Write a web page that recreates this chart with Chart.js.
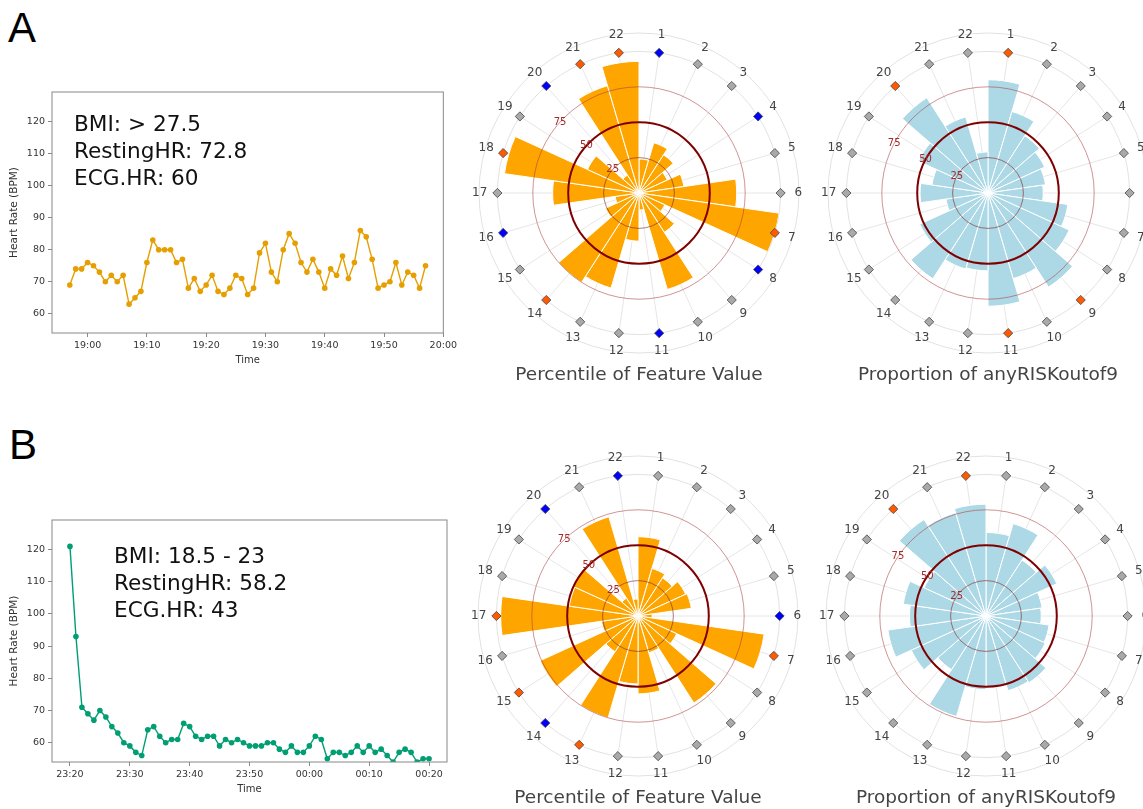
<!DOCTYPE html>
<html>
<head>
<meta charset="utf-8">
<script src="https://cdn.jsdelivr.net/npm/chart.js@4.4.1/dist/chart.umd.min.js"></script>
<style>
  html, body { margin: 0; padding: 0; background: #fff; }
  body { width: 1143px; height: 809px; position: relative; overflow: hidden; }
  canvas, .txt { position: absolute; }
  .panel { font-family: 'Liberation Sans', Arial, sans-serif; font-size: 42px; line-height: 42px; color: #000; }
  .note { font-family: 'DejaVu Sans', sans-serif; font-size: 21.6px; line-height: 27px; color: #111; white-space: pre; }
  .cap { font-family: 'DejaVu Sans', sans-serif; font-size: 18.5px; line-height: 22px; color: #444; text-align: center; width: 360px; }
</style>
</head>
<body>
<div class="txt panel" style="left:8px; top:7px">A</div>
<div class="txt panel" style="left:9px; top:424px">B</div>

<canvas id="lineA" width="460" height="290" style="left:0; top:80px"></canvas>
<canvas id="lineB" width="460" height="291" style="left:0; top:508px"></canvas>
<canvas id="polA1" width="360" height="360" style="left:459px; top:13px"></canvas>
<canvas id="polA2" width="360" height="360" style="left:808px; top:13px"></canvas>
<canvas id="polB1" width="360" height="360" style="left:458px; top:436px"></canvas>
<canvas id="polB2" width="360" height="360" style="left:806px; top:436px"></canvas>

<div class="txt note" style="left:74px; top:110px">BMI: &gt; 27.5
RestingHR: 72.8
ECG.HR: 60</div>
<div class="txt note" style="left:114px; top:542px">BMI: 18.5 - 23
RestingHR: 58.2
ECG.HR: 43</div>

<div class="txt cap" style="left:459px; top:363px">Percentile of Feature Value</div>
<div class="txt cap" style="left:808px; top:363px">Proportion of anyRISKoutof9</div>
<div class="txt cap" style="left:458px; top:786px">Percentile of Feature Value</div>
<div class="txt cap" style="left:806px; top:786px">Proportion of anyRISKoutof9</div>

<script>
// heart rate, one reading per minute
const startA = 18 * 60 + 57;   // 18:57
const hrA = [69, 74, 74, 76, 75, 73, 70, 72, 70, 72, 63, 65, 67, 76, 83, 80, 80, 80, 76, 77,
             68, 71, 67, 69, 72, 67, 66, 68, 72, 71, 66, 68, 79, 82, 73, 70, 80, 85, 82, 76,
             73, 77, 73, 68, 74, 72, 78, 71, 76, 86, 84, 77, 68, 69, 70, 76, 69, 73, 72, 68, 75];
const startB = 23 * 60 + 20;   // 23:20
const hrB = [121, 93, 71, 69, 67, 70, 68, 65, 63, 60, 59, 57, 56, 64, 65, 62, 60, 61, 61, 66,
             65, 62, 61, 62, 62, 59, 61, 60, 61, 60, 59, 59, 59, 60, 60, 58, 57, 59, 57, 57,
             59, 62, 61, 55, 57, 57, 56, 57, 59, 57, 59, 57, 58, 56, 54, 57, 58, 57, 54, 55, 55];

// radial plots: 22 features
const sectorLabels = ['1', '2', '3', '4', '5', '6', '7', '8', '9', '10', '11',
                      '12', '13', '14', '15', '16', '17', '18', '19', '20', '21', '22'];
const pctA  = [24, 37, 32, 22, 32, 69, 100, 20, 33, 71, 12, 34, 70, 75, 26, 17, 61, 96, 40, 15, 79, 93];
const propA = [80, 60, 48, 44, 41, 39, 57, 63, 79, 63, 80, 55, 56, 72, 53, 30, 48, 40, 54, 80, 56, 29];
const pctB  = [56, 35, 32, 37, 38, 10, 90, 30, 73, 27, 55, 48, 75, 30, 76, 26, 97, 49, 51, 15, 73, 12];
const propB = [59, 68, 47, 55, 40, 39, 45, 46, 56, 55, 50, 52, 74, 45, 58, 70, 54, 59, 48, 81, 76, 79];

// marker status per feature: g = neutral, o = high, b = low
const marksPctA  = ['b','g','g','b','g','g','o','b','g','g','b','g','g','o','g','b','g','o','g','b','o','o'];
const marksPropA = ['o','g','g','g','g','g','g','g','o','g','o','g','g','g','g','g','g','g','g','o','g','g'];
const marksPctB  = ['g','g','g','g','g','b','o','g','g','g','g','g','o','b','o','g','o','g','g','b','g','b'];
const marksPropB = ['g','g','g','g','g','g','g','g','g','g','g','g','g','g','g','g','g','g','g','o','g','o'];

const ringValues = [0, 25, 50, 75, 100, 113];
const radialTickLabels = [25, 50, 75];

const markColor = { g: '#a9a9a9', o: '#ff5a00', b: '#0000ff' };
const ringStyle = {
    25:  { color: 'rgba(120, 40, 40, 0.6)', width: 1 },
    50:  { color: '#7f0000', width: 2 },
    75:  { color: 'rgba(170, 60, 60, 0.55)', width: 1 },
    100: { color: '#e2e2e2', width: 1 },
    113: { color: '#e2e2e2', width: 1 }
};

const mpl = { family: 'DejaVu Sans' };
const tickColor = '#333';
const spineColor = '#888';

function hhmm(v) {
    const m = ((Math.round(v) % 1440) + 1440) % 1440;
    return String(Math.floor(m / 60)).padStart(2, '0') + ':' + String(m % 60).padStart(2, '0');
}

// box round the plot area, like matplotlib spines
const frameBox = {
    id: 'frameBox',
    afterDraw(chart) {
        const { ctx, chartArea: a } = chart;
        ctx.save();
        ctx.strokeStyle = spineColor;
        ctx.lineWidth = 1;
        ctx.strokeRect(a.left, a.top, a.width, a.height);
        ctx.restore();
    }
};

function lineChart(id, start, values, color) {
    const pts = values.map((v, i) => ({ x: start + i, y: v }));
    return new Chart(document.getElementById(id), {
        type: 'line',
        data: {
            datasets: [{
                data: pts,
                borderColor: color,
                backgroundColor: color,
                borderWidth: 1.4,
                pointRadius: 2.8,
                pointBorderWidth: 0,
                pointHoverRadius: 2.8,
                tension: 0
            }]
        },
        options: {
            responsive: false,
            animation: false,
            layout: { padding: { left: 4, right: 13, top: 12, bottom: 0 } },
            plugins: { legend: { display: false }, tooltip: { enabled: false } },
            scales: {
                x: {
                    type: 'linear',
                    min: start - 3,
                    max: start + values.length + 2,
                    afterFit: s => { s.height = 37; },
                    ticks: {
                        stepSize: 10, includeBounds: false, autoSkip: false, maxRotation: 0,
                        padding: 3, color: tickColor, font: { ...mpl, size: 9.5 },
                        callback: v => hhmm(v)
                    },
                    grid: { display: true, drawOnChartArea: false, tickLength: 4, color: spineColor },
                    border: { display: false },
                    title: { display: true, text: 'Time', color: tickColor, font: { ...mpl, size: 10 }, padding: { top: 4, bottom: 4 } }
                },
                y: {
                    min: 54,
                    max: 129.2,
                    afterFit: s => { s.width = 48; },
                    ticks: { stepSize: 10, includeBounds: false, padding: 3, color: tickColor, font: { ...mpl, size: 9.5 } },
                    grid: { display: true, drawOnChartArea: false, tickLength: 4, color: spineColor },
                    border: { display: false },
                    title: { display: true, text: 'Heart Rate (BPM)', color: tickColor, font: { ...mpl, size: 10.5 }, padding: { top: 4, bottom: 4 } }
                }
            }
        },
        plugins: [frameBox]
    });
}

// spokes under the bars, diamonds + labels on top
const polarDecor = {
    id: 'polarDecor',
    beforeDatasetsDraw(chart) {
        const r = chart.scales.r, ctx = chart.ctx;
        const n = chart.data.labels.length, half = Math.PI / n;
        const end = r.getDistanceFromCenterForValue(100);
        ctx.save();
        ctx.strokeStyle = '#e6e6e6';
        ctx.lineWidth = 1;
        for (let i = 0; i < n; i++) {
            const p = r.getPointPosition(i, end, half);
            ctx.beginPath();
            ctx.moveTo(r.xCenter, r.yCenter);
            ctx.lineTo(p.x, p.y);
            ctx.stroke();
        }
        ctx.restore();
    },
    afterDraw(chart, args, opts) {
        const r = chart.scales.r, ctx = chart.ctx;
        const n = chart.data.labels.length, half = Math.PI / n;
        const dMark = r.getDistanceFromCenterForValue(100);
        const dLabel = r.getDistanceFromCenterForValue(112.5);
        const s = 4.6;
        ctx.save();
        ctx.textAlign = 'center';
        ctx.textBaseline = 'middle';
        chart.data.labels.forEach((lab, i) => {
            const p = r.getPointPosition(i, dMark, half);
            ctx.beginPath();
            ctx.moveTo(p.x, p.y - s);
            ctx.lineTo(p.x + s, p.y);
            ctx.lineTo(p.x, p.y + s);
            ctx.lineTo(p.x - s, p.y);
            ctx.closePath();
            ctx.fillStyle = markColor[opts.marks[i]];
            ctx.fill();
            ctx.strokeStyle = '#444';
            ctx.lineWidth = 0.8;
            ctx.stroke();

            const q = r.getPointPosition(i, dLabel, half);
            ctx.fillStyle = '#444';
            ctx.font = '12px "DejaVu Sans"';
            ctx.fillText(lab, q.x, q.y);
        });
        const phi = opts.tickAngle * Math.PI / 180;
        ctx.fillStyle = '#a52a2a';
        ctx.font = '10px "DejaVu Sans"';
        radialTickLabels.forEach(v => {
            const d = r.getDistanceFromCenterForValue(v);
            ctx.fillText(String(v), r.xCenter + d * Math.sin(phi), r.yCenter - d * Math.cos(phi));
        });
        ctx.restore();
    }
};

function polarChart(id, values, color, marks, tickAngle) {
    return new Chart(document.getElementById(id), {
        type: 'polarArea',
        data: {
            labels: sectorLabels,
            datasets: [{ data: values, backgroundColor: color, borderColor: '#ffffff', borderWidth: 1 }]
        },
        options: {
            responsive: false,
            animation: false,
            layout: { padding: 20 },
            plugins: {
                legend: { display: false },
                tooltip: { enabled: false },
                polarDecor: { marks: marks, tickAngle: tickAngle }
            },
            scales: {
                r: {
                    min: 0,
                    max: 113,
                    afterBuildTicks: s => { s.ticks = ringValues.map(v => ({ value: v })); },
                    ticks: { display: false },
                    pointLabels: { display: false },
                    angleLines: { display: false },
                    grid: {
                        z: 1,
                        circular: true,
                        color: c => (ringStyle[c.tick.value] || ringStyle[100]).color,
                        lineWidth: c => (ringStyle[c.tick.value] || ringStyle[100]).width
                    }
                }
            }
        },
        plugins: [polarDecor]
    });
}

lineChart('lineA', startA, hrA, '#E69F00');
lineChart('lineB', startB, hrB, '#009E73');
polarChart('polA1', pctA, '#FFA500', marksPctA, 312);
polarChart('polA2', propA, '#ADD8E6', marksPropA, 298);
polarChart('polB1', pctB, '#FFA500', marksPctB, 316);
polarChart('polB2', propB, '#ADD8E6', marksPropB, 304);
</script>
</body>
</html>
